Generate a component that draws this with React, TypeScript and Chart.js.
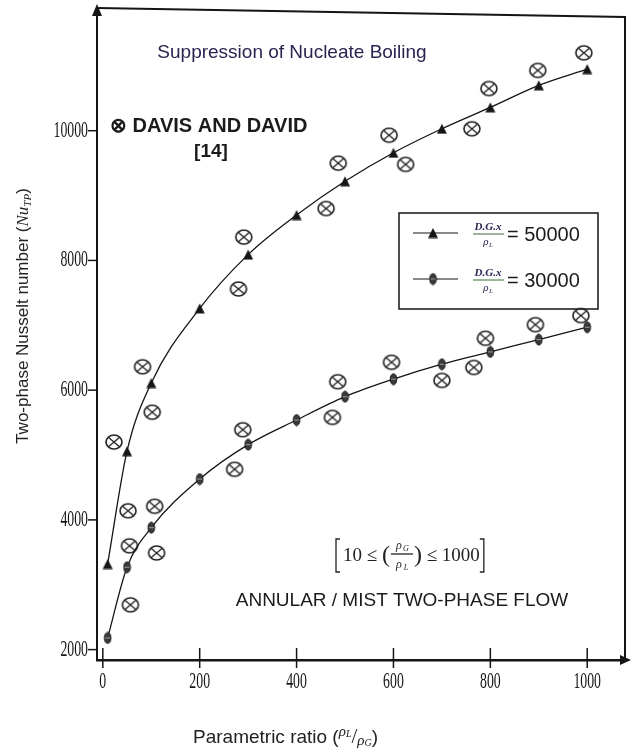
import React, { useEffect, useRef } from 'react';
import { Chart, registerables } from 'chart.js';

Chart.register(...registerables);

// ---- data ----
const ratio = [10, 50, 100, 200, 300, 400, 500, 600, 700, 800, 900, 1000];
const nu50000 = [3320, 5060, 6110, 7260, 8090, 8700, 9220, 9660, 10030, 10360, 10700, 10950];
const nu30000 = [2180, 3270, 3880, 4630, 5160, 5540, 5900, 6170, 6400, 6590, 6780, 6970];
const davisRatio = [23, 52, 55, 57, 82, 102, 107, 111, 272, 280, 289, 291, 461, 474, 486, 485, 591, 596, 625, 700, 762, 766, 790, 797, 893, 898, 987, 993];
const davisNu = [5200, 4140, 3600, 2690, 6360, 5660, 4210, 3490, 4780, 7560, 5390, 8360, 8800, 5580, 9500, 6130, 9930, 6430, 9480, 6150, 10030, 6350, 6800, 10650, 7010, 10930, 7150, 11200];
const xTicks = [0, 200, 400, 600, 800, 1000];
const yTicks = [2000, 4000, 6000, 8000, 10000];
const seriesValues = ['50000', '30000'];

const INK = '#151515';
const SANS = '"Liberation Sans", Arial, sans-serif';
const SERIF = '"Liberation Serif", "Times New Roman", serif';

function makeCrossMarker(): HTMLCanvasElement {
  const c = document.createElement('canvas');
  c.width = 20;
  c.height = 18;
  const g = c.getContext('2d')!;
  g.strokeStyle = '#222';
  g.lineWidth = 1.6;
  g.beginPath();
  g.ellipse(10, 9, 8, 7, 0, 0, Math.PI * 2);
  g.stroke();
  g.lineWidth = 1.3;
  g.beginPath();
  const a = Math.PI / 4;
  for (const ang of [a, a + Math.PI / 2]) {
    g.moveTo(10 + 7.5 * Math.cos(ang), 9 + 6.5 * Math.sin(ang));
    g.lineTo(10 - 7.5 * Math.cos(ang), 9 - 6.5 * Math.sin(ang));
  }
  g.stroke();
  return c;
}

function makeEllipseMarker(): HTMLCanvasElement {
  const c = document.createElement('canvas');
  c.width = 9;
  c.height = 13;
  const g = c.getContext('2d')!;
  g.fillStyle = '#3a3a3a';
  g.strokeStyle = '#111';
  g.lineWidth = 1;
  g.beginPath();
  g.ellipse(4.5, 6.5, 3.3, 5.5, 0, 0, Math.PI * 2);
  g.fill();
  g.stroke();
  g.strokeStyle = '#9a9a9a';
  g.beginPath();
  g.moveTo(2, 6.5);
  g.lineTo(7, 6.5);
  g.stroke();
  return c;
}

function makeTriMarker(): HTMLCanvasElement {
  const c = document.createElement('canvas');
  c.width = 12;
  c.height = 11;
  const g = c.getContext('2d')!;
  g.fillStyle = INK;
  g.beginPath();
  g.moveTo(6, 0.5);
  g.lineTo(11, 10.5);
  g.lineTo(1, 10.5);
  g.closePath();
  g.fill();
  return c;
}

function drawSegments(
  ctx: CanvasRenderingContext2D,
  segs: { t: string; font: string; dy?: number }[],
  x: number,
  y: number,
  align: 'left' | 'center'
) {
  let total = 0;
  for (const s of segs) {
    ctx.font = s.font;
    total += ctx.measureText(s.t).width;
  }
  let cx = align === 'center' ? x - total / 2 : x;
  ctx.textAlign = 'left';
  for (const s of segs) {
    ctx.font = s.font;
    ctx.fillText(s.t, cx, y + (s.dy || 0));
    cx += ctx.measureText(s.t).width;
  }
  return cx;
}

function makeDecorPlugin(tri: HTMLCanvasElement, ell: HTMLCanvasElement) {
  return {
    id: 'decor',
    afterDraw(chart: any) {
      const ctx: CanvasRenderingContext2D = chart.ctx;
      const { left, right, top, bottom } = chart.chartArea;
      const xs = chart.scales.x;
      const ys = chart.scales.y;
      ctx.save();
      ctx.strokeStyle = INK;
      ctx.fillStyle = INK;

      // frame: top and right
      ctx.lineWidth = 2;
      ctx.beginPath();
      ctx.moveTo(left, top - 4);
      ctx.lineTo(right, top + 5);
      ctx.lineTo(right, bottom);
      ctx.stroke();

      // arrows
      ctx.beginPath();
      ctx.moveTo(left, top - 8);
      ctx.lineTo(left - 5, top + 4);
      ctx.lineTo(left + 5, top + 4);
      ctx.closePath();
      ctx.fill();
      ctx.beginPath();
      ctx.moveTo(right + 6, bottom);
      ctx.lineTo(right - 5, bottom - 5);
      ctx.lineTo(right - 5, bottom + 5);
      ctx.closePath();
      ctx.fill();

      // tick marks
      ctx.lineWidth = 1.5;
      for (const v of xTicks) {
        const px = xs.getPixelForValue(v);
        ctx.beginPath();
        ctx.moveTo(px, bottom - 12);
        ctx.lineTo(px, bottom + 8);
        ctx.stroke();
      }
      for (const v of yTicks) {
        const py = ys.getPixelForValue(v);
        ctx.beginPath();
        ctx.moveTo(left - 9, py);
        ctx.lineTo(left, py);
        ctx.stroke();
      }

      // tick labels (narrow serif)
      ctx.font = '23px ' + SERIF;
      ctx.textBaseline = 'middle';
      for (const v of xTicks) {
        const px = xs.getPixelForValue(v);
        ctx.save();
        ctx.translate(px, bottom + 22);
        ctx.scale(0.6, 1);
        ctx.textAlign = 'center';
        ctx.fillText(String(v), 0, 0);
        ctx.restore();
      }
      for (const v of yTicks) {
        const py = ys.getPixelForValue(v);
        ctx.save();
        ctx.translate(left - 9, py);
        ctx.scale(0.6, 1);
        ctx.textAlign = 'right';
        ctx.fillText(String(v), 0, 0);
        ctx.restore();
      }

      // axis titles
      ctx.textBaseline = 'alphabetic';
      ctx.fillStyle = '#222';
      ctx.save();
      ctx.translate(28, 316);
      ctx.rotate(-Math.PI / 2);
      drawSegments(
        ctx,
        [
          { t: 'Two-phase Nusselt number (', font: '17px ' + SANS },
          { t: 'Nu', font: 'italic 17px ' + SERIF },
          { t: 'TP', font: 'italic 11px ' + SERIF, dy: 3 },
          { t: ')', font: '17px ' + SANS },
        ],
        0,
        0,
        'center'
      );
      ctx.restore();

      drawSegments(
        ctx,
        [
          { t: 'Parametric ratio (', font: '19px ' + SANS },
          { t: 'ρ', font: 'italic 15px ' + SERIF, dy: -7 },
          { t: 'L', font: 'italic 10px ' + SERIF, dy: -6 },
          { t: '/', font: '21px ' + SERIF },
          { t: 'ρ', font: 'italic 15px ' + SERIF, dy: 2 },
          { t: 'G', font: 'italic 10px ' + SERIF, dy: 3 },
          { t: ')', font: '19px ' + SANS },
        ],
        193,
        743,
        'left'
      );

      // annotations
      ctx.fillStyle = '#2a2450';
      ctx.font = '19px ' + SANS;
      ctx.textAlign = 'center';
      ctx.fillText('Suppression of Nucleate Boiling', 292, 58);

      ctx.fillStyle = '#1b1b1b';
      ctx.font = 'bold 20px ' + SANS;
      ctx.textAlign = 'left';
      ctx.fillText('⊗ DAVIS AND DAVID', 110, 132);
      ctx.textAlign = 'center';
      ctx.font = 'bold 19px ' + SANS;
      ctx.fillText('[14]', 211, 157);

      ctx.font = '19px ' + SANS;
      ctx.fillText('ANNULAR / MIST TWO-PHASE FLOW', 402, 606);

      // bracket expression  [10 ≤ (ρG/ρL) ≤ 1000]
      ctx.fillStyle = '#222';
      ctx.strokeStyle = '#222';
      ctx.lineWidth = 1.3;
      let cx = drawSegments(
        ctx,
        [
          { t: '10 ≤ ', font: '19px ' + SERIF },
          { t: '(', font: '24px ' + SERIF, dy: 1 },
        ],
        343,
        561,
        'left'
      );
      const fx = cx + 12;
      ctx.textAlign = 'center';
      ctx.font = 'italic 12px ' + SERIF;
      ctx.fillText('ρ', fx - 3, 549);
      ctx.font = 'italic 8px ' + SERIF;
      ctx.fillText('G', fx + 4, 551);
      ctx.font = 'italic 12px ' + SERIF;
      ctx.fillText('ρ', fx - 3, 568);
      ctx.font = 'italic 8px ' + SERIF;
      ctx.fillText('L', fx + 4, 570);
      ctx.beginPath();
      ctx.moveTo(cx + 1, 554);
      ctx.lineTo(cx + 23, 554);
      ctx.stroke();
      cx = drawSegments(
        ctx,
        [
          { t: ')', font: '24px ' + SERIF, dy: 1 },
          { t: ' ≤ 1000', font: '19px ' + SERIF },
        ],
        cx + 24,
        561,
        'left'
      );
      ctx.beginPath();
      ctx.moveTo(340, 539);
      ctx.lineTo(336, 539);
      ctx.lineTo(336, 572);
      ctx.lineTo(340, 572);
      ctx.moveTo(cx, 539);
      ctx.lineTo(cx + 4, 539);
      ctx.lineTo(cx + 4, 572);
      ctx.lineTo(cx, 572);
      ctx.stroke();

      // legend box
      ctx.strokeStyle = '#222';
      ctx.lineWidth = 1.6;
      ctx.strokeRect(399, 213, 199, 96);
      const rows = [233, 279];
      rows.forEach((ry, i) => {
        ctx.strokeStyle = INK;
        ctx.lineWidth = 1.2;
        ctx.beginPath();
        ctx.moveTo(413, ry);
        ctx.lineTo(458, ry);
        ctx.stroke();
        const mk = i === 0 ? tri : ell;
        ctx.drawImage(mk, 433 - mk.width / 2, ry - mk.height / 2);
        ctx.fillStyle = '#2a2450';
        ctx.textAlign = 'center';
        ctx.font = 'italic bold 11px ' + SERIF;
        ctx.fillText('D.G.x', 488, ry - 3);
        ctx.strokeStyle = '#3a6b30';
        ctx.lineWidth = 1;
        ctx.beginPath();
        ctx.moveTo(473, ry + 1);
        ctx.lineTo(504, ry + 1);
        ctx.stroke();
        ctx.fillStyle = '#2a2450';
        ctx.font = 'italic 11px ' + SERIF;
        ctx.fillText('ρ', 486, ry + 12);
        ctx.font = 'italic 7px ' + SERIF;
        ctx.fillText('L', 491, ry + 14);
        ctx.fillStyle = '#1b1b1b';
        ctx.font = '20px ' + SANS;
        ctx.textAlign = 'left';
        ctx.fillText('= ' + seriesValues[i], 507, ry + 8);
      });

      ctx.restore();
    },
  };
}

export default function App() {
  const ref = useRef<HTMLCanvasElement | null>(null);

  useEffect(() => {
    if (!ref.current) return;
    const cross = makeCrossMarker();
    const ell = makeEllipseMarker();
    const tri = makeTriMarker();
    const chart: any = new Chart(ref.current, {
      type: 'line',
      data: {
        datasets: [
          {
            label: 'D.G.x/ρL = ' + seriesValues[0],
            data: ratio.map((x, i) => ({ x, y: nu50000[i] })),
            borderColor: INK,
            borderWidth: 1.3,
            pointStyle: tri as any,
            pointRadius: 5,
            cubicInterpolationMode: 'monotone',
            fill: false,
          },
          {
            label: 'D.G.x/ρL = ' + seriesValues[1],
            data: ratio.map((x, i) => ({ x, y: nu30000[i] })),
            borderColor: INK,
            borderWidth: 1.3,
            pointStyle: ell as any,
            pointRadius: 5,
            cubicInterpolationMode: 'monotone',
            fill: false,
          },
          {
            label: 'DAVIS AND DAVID [14]',
            data: davisRatio.map((x, i) => ({ x, y: davisNu[i] })),
            showLine: false,
            pointStyle: cross as any,
            pointRadius: 8,
            borderColor: '#222',
          },
        ],
      },
      options: {
        animation: false,
        responsive: false,
        devicePixelRatio: 1,
        layout: { padding: { top: 12, right: 9, left: 0, bottom: 0 } },
        plugins: {
          legend: { display: false },
          tooltip: { enabled: false },
        },
        scales: {
          x: {
            type: 'linear',
            min: -12,
            max: 1078,
            afterBuildTicks: (s: any) => {
              s.ticks = xTicks.map((v) => ({ value: v }));
            },
            afterFit: (s: any) => {
              s.height = 95;
            },
            ticks: { display: false },
            grid: { display: false },
            border: { display: true, color: INK, width: 2.5 },
          },
          y: {
            type: 'linear',
            min: 1840,
            max: 11830,
            afterBuildTicks: (s: any) => {
              s.ticks = yTicks.map((v) => ({ value: v }));
            },
            afterFit: (s: any) => {
              s.width = 97;
            },
            ticks: { display: false },
            grid: { display: false },
            border: { display: true, color: INK, width: 2 },
          },
        },
      },
      plugins: [makeDecorPlugin(tri, ell)],
    });
    return () => chart.destroy();
  }, []);

  return (
    <div style={{ position: 'fixed', left: 0, top: 0, width: 634, height: 755, background: '#fff' }}>
      <canvas ref={ref} width={634} height={755} style={{ width: 634, height: 755, display: 'block' }} />
    </div>
  );
}
